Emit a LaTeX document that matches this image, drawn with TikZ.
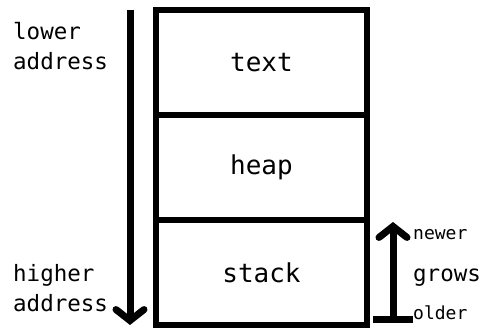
\documentclass[tikz,border=0pt]{standalone}
\usepackage{fontspec}
\setmonofont{DejaVu Sans Mono}
\usetikzlibrary{arrows.meta}

\tikzset{
  seg/.style = {draw, line width=6.5pt, minimum width=211pt, minimum height=105pt,
    inner sep=0pt, font=\ttfamily\fontsize{26}{30}\selectfont},
  side/.style = {align=left, anchor=base west, inner sep=0pt,
    font=\ttfamily\fontsize{22.5}{30}\selectfont},
  small/.style = {font=\ttfamily\fontsize{18}{20}\selectfont},
  fat/.style = {line width=7pt}
}

\begin{document}
\begin{tikzpicture}[x=1pt, y=-1pt, node distance = 105pt]
\useasboundingbox (0,0) rectangle (483,328);

\node[seg] (text) at (261.5,62.5) {text};
\node[seg] (heap) [below of = text] {heap};
\node[seg] (stack) [below of = heap] {stack};

% address arrow on the left
\coordinate (addr_top) at (130,10);
\coordinate (addr_end) at (130,325);
\draw[fat, -{Straight Barb[length=11pt,width=28pt,line cap=round]}] (addr_top) -- (addr_end);

\node[side] (lower) at (13,70) {lower\\address};
\node[side] (higher) at (13,312) {higher\\address};

% stack growth
\coordinate (old_end) at (393,323.5);
\coordinate (new_end) at (393,222);
\draw[fat, {Bar[width=40pt]}-{Straight Barb[length=11pt,width=28pt,line cap=round]}] (old_end) -- (new_end);

\node[side, small] (newer) at (413,240) {newer};
\node[side] (grows) at (413,282) {grows};
\node[side, small] (older) at (413,320) {older};
\end{tikzpicture}
\end{document}
